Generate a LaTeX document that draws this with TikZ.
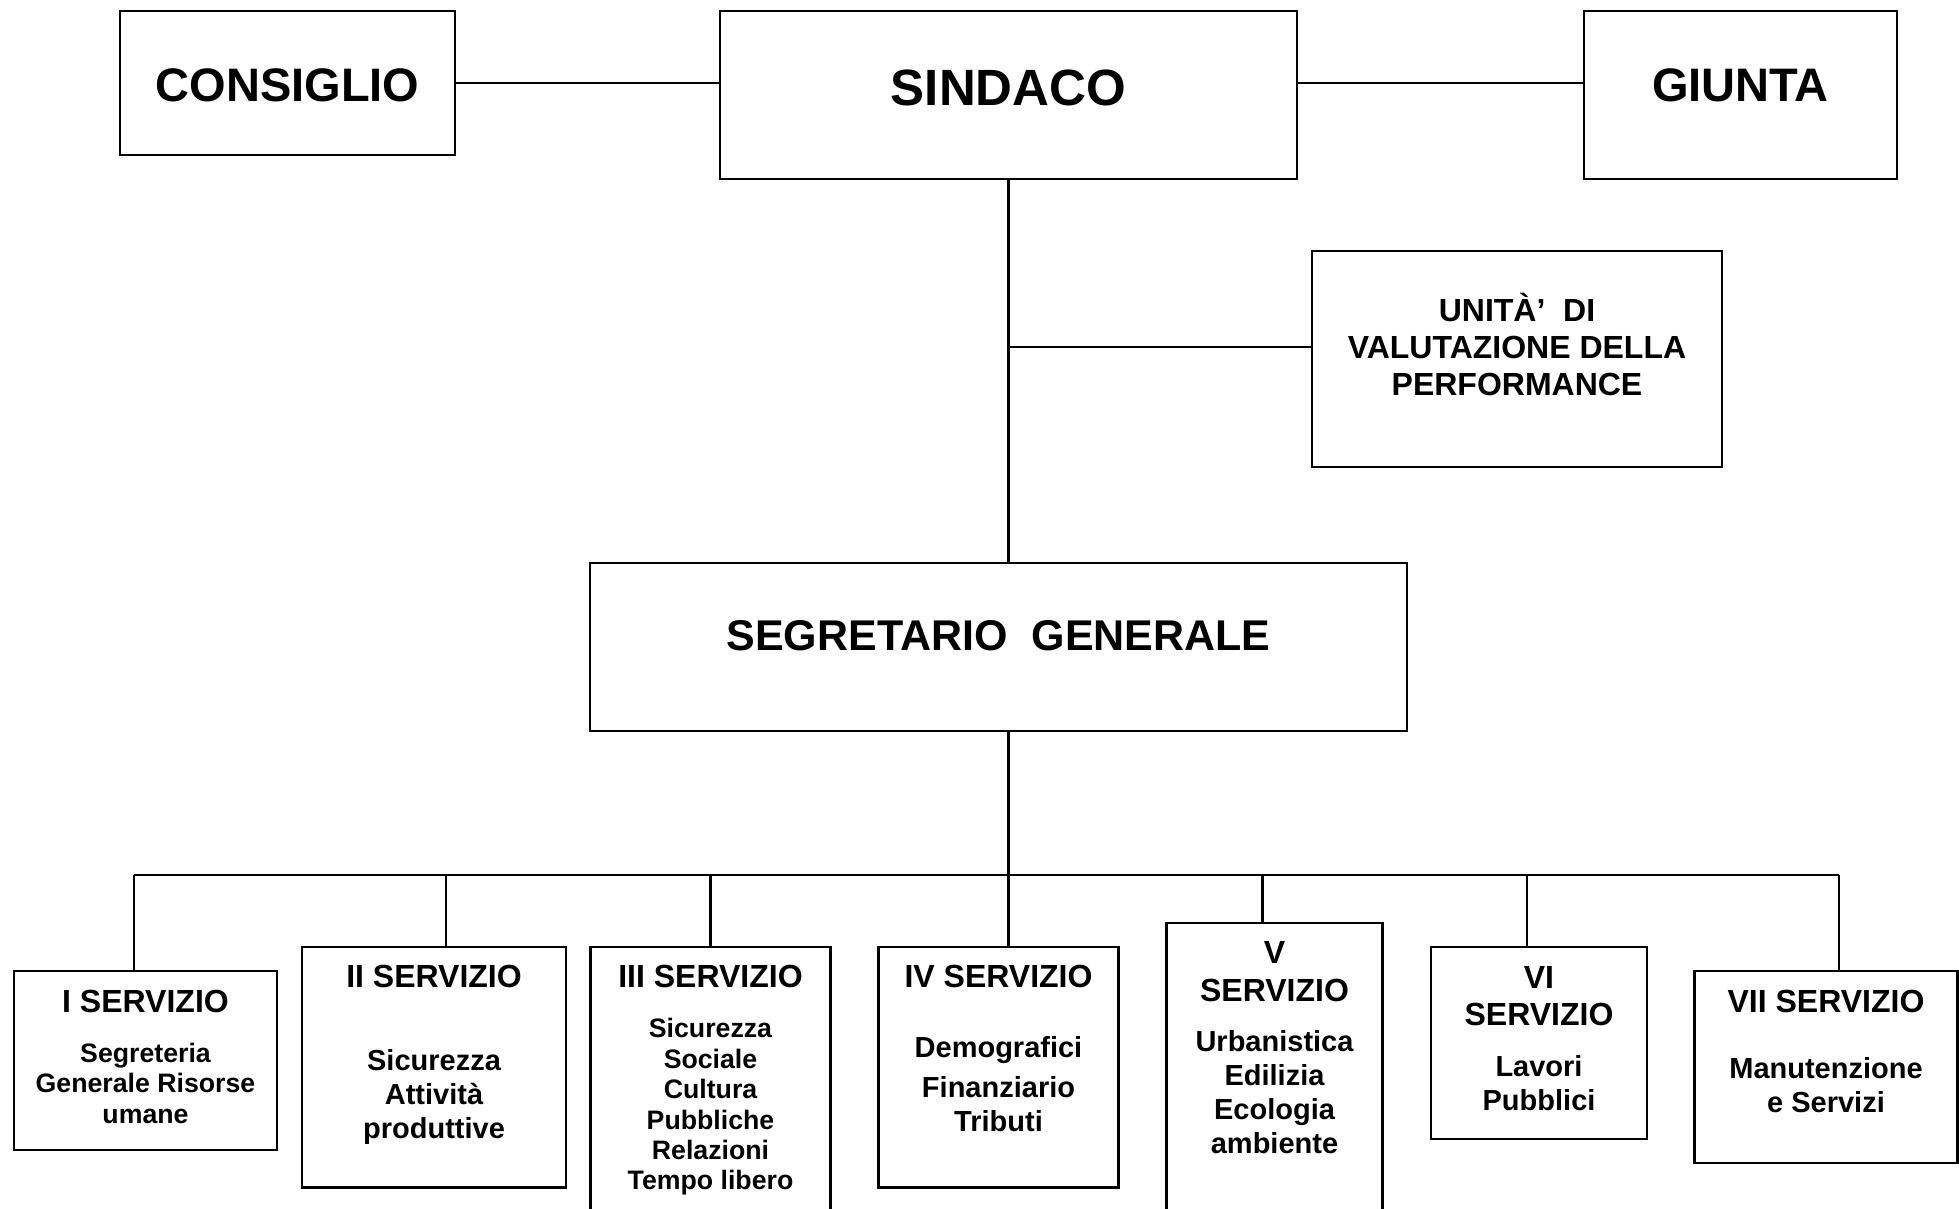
\documentclass[tikz,border=0pt]{standalone}
\usepackage{fontspec}
\setmainfont{Liberation Sans}
\usetikzlibrary{positioning}
\tikzstyle{ufficio}=[draw, line width=2.3pt, inner sep=0pt, outer sep=0pt]
\tikzstyle{testo}=[inner sep=0pt, align=center,
  font=\bfseries\fontsize{29}{34}\selectfont]
\tikzstyle{piccolo}=[font=\bfseries\fontsize{26.7}{30.4}\selectfont]
\tikzstyle{line}=[draw, line width=2.1pt, color=black]
\newcommand{\titserv}{\fontsize{32}{37}\selectfont}
\newcommand{\ufficio}[5]{node (#1) [ufficio, #2] {}
  node [testo, below=#3 of #1.north, #4] {#5}}

\begin{document}
\begin{tikzpicture}[x=1pt, y=-1pt]
  \useasboundingbox (0,0) rectangle (1959,1208);
  \clip (0,0) rectangle (1959,1208);

  % organi di governo
  \path (1008.5,95) \ufficio{SINDACO}{minimum width=577pt, minimum height=168pt}{59pt}
    {font=\bfseries\fontsize{51}{60}\selectfont}{SINDACO};
  \path (287.5,83) \ufficio{CONSIGLIO}{minimum width=335pt, minimum height=144pt}{57pt}
    {font=\bfseries\fontsize{47}{56}\selectfont}{CONSIGLIO};
  \path (1740.5,95) \ufficio{GIUNTA}{minimum width=313pt, minimum height=168pt}{57pt}
    {font=\bfseries\fontsize{47}{56}\selectfont}{GIUNTA};
  \path (1517,359) \ufficio{UNITA}{minimum width=410pt, minimum height=216pt}{42pt}
    {font=\bfseries\fontsize{32}{37}\selectfont}{UNITÀ’~~DI\\VALUTAZIONE DELLA\\PERFORMANCE};
  \path (998.5,647) \ufficio{SEGRETARIO}{minimum width=817pt, minimum height=167.5pt}{57pt}
    {font=\bfseries\fontsize{43}{50}\selectfont}{SEGRETARIO~~GENERALE};

  % servizi
  \path (145.5,1060.5) \ufficio{SI}{minimum width=263pt, minimum height=179pt}{19pt}{piccolo}
    {{\titserv I SERVIZIO}\\[19.5pt]Segreteria\\Generale Risorse\\umane};
  \path (434,1067.25) \ufficio{SII}{minimum width=264pt, minimum height=240.5pt}{18pt}{}
    {{\titserv II SERVIZIO}\\[48.5pt]Sicurezza\\Attività\\produttive};
  \path (710.5,1093.5) \ufficio{SIII}{minimum width=240pt, minimum height=293pt}{18pt}{piccolo}
    {{\titserv III SERVIZIO}\\[20pt]Sicurezza\\Sociale\\Cultura\\Pubbliche\\Relazioni\\Tempo libero};
  \path (998.5,1067.25) \ufficio{SIV}{minimum width=240pt, minimum height=240.5pt}{18pt}{}
    {{\titserv IV SERVIZIO}\\[35.5pt]Demografici\\[6pt]Finanziario\\Tributi};
  \path (1274.5,1081.5) \ufficio{SV}{minimum width=216pt, minimum height=317pt}{18.7pt}{}
    {{\titserv V}\\[3.4pt]{\titserv SERVIZIO}\\[16.5pt]Urbanistica\\Edilizia\\Ecologia\\ambiente};
  \path (1539,1043) \ufficio{SVI}{minimum width=216pt, minimum height=192pt}{19pt}{}
    {{\titserv VI}\\[3pt]{\titserv SERVIZIO}\\[17.5pt]Lavori\\Pubblici};
  \path (1826,1067) \ufficio{SVII}{minimum width=263pt, minimum height=192pt}{19pt}{}
    {{\titserv VII SERVIZIO}\\[32pt]Manutenzione\\e Servizi};

  % collegamenti
  \path [line] (CONSIGLIO.east) -- (CONSIGLIO.east -| SINDACO.west);
  \path [line] (SINDACO.east |- CONSIGLIO.east) -- (GIUNTA.west |- CONSIGLIO.east);
  \path [line] (SINDACO.south) -- (SINDACO.south |- SEGRETARIO.north);
  \path [line] ([yshift=12pt]UNITA.west) -- ([yshift=12pt]UNITA.west -| SINDACO.south);
  \path (SINDACO.south |- SEGRETARIO.south)+(0,144) coordinate (bus);
  \path [line] (SINDACO.south |- SEGRETARIO.south) -- (bus);

  % linea dei servizi
  \path [line] ([xshift=-11.5pt]SI.north |- bus) -- ([xshift=13.3pt]SVII.north |- bus);
  \path [line] ([xshift=-11.5pt]SI.north) -- ([xshift=-11.5pt]SI.north |- bus);
  \path [line] ([xshift=12pt]SII.north) -- ([xshift=12pt]SII.north |- bus);
  \path [line] (SIII.north) -- (SIII.north |- bus);
  \path [line] ([xshift=10pt]SIV.north) -- ([xshift=10pt]SIV.north |- bus);
  \path [line] ([xshift=-12pt]SV.north) -- ([xshift=-12pt]SV.north |- bus);
  \path [line] ([xshift=-12pt]SVI.north) -- ([xshift=-12pt]SVI.north |- bus);
  \path [line] ([xshift=13.3pt]SVII.north) -- ([xshift=13.3pt]SVII.north |- bus);

\end{tikzpicture}
\end{document}
